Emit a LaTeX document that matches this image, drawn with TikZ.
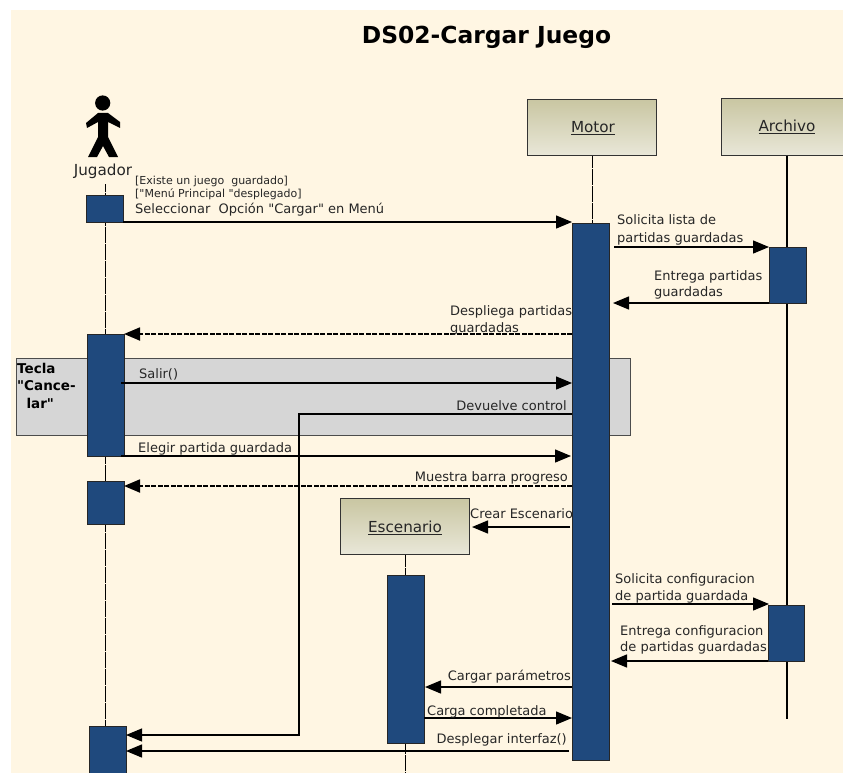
\documentclass[tikz,border=0pt]{standalone}
\usepackage{fontspec}
\setmainfont{DejaVu Sans}[Ligatures=TeXOff]
\usetikzlibrary{arrows.meta,calc}
\definecolor{cream}{HTML}{FFF6E3}
\definecolor{barblue}{HTML}{1F497D}
\definecolor{boxtop}{HTML}{C9C6A2}
\definecolor{boxbot}{HTML}{E9E7D8}
\definecolor{fragfill}{HTML}{D6D6D6}
\tikzset{
 x=1pt,y=-1pt,
 bar/.style={draw=black!85,line width=0.8pt,fill=barblue},
 life/.style={draw=black,line width=1pt},
 lifedash/.style={life,dash pattern=on 4pt off 0.25pt},
 objbox/.style={draw=black!80,line width=0.8pt,top color=boxtop,bottom color=boxbot,inner sep=0pt,anchor=north west},
 objlab/.style={inner sep=0pt,font=\fontsize{15.2}{18}\selectfont,text=black!85},
 msg/.style={draw=black,line width=1.4pt,-{Triangle[length=16pt,width=13pt]}},
 ret/.style={msg,line width=1.8pt,dash pattern=on 5pt off 1.5pt},
 lab/.style={inner sep=0pt,yshift=-1pt,font=\fontsize{13}{15}\selectfont,text=black!85},
 labr/.style={lab,anchor=base east},
 labl/.style={lab,anchor=base west},
 small/.style={inner sep=0pt,yshift=-1pt,anchor=base west,font=\fontsize{11}{13}\selectfont,text=black!85},
}
\newcommand{\barbox}[5]{\node[bar,inner sep=0pt,anchor=north west,minimum width=#4pt,minimum height=#5pt] (#1) at (#2,#3) {};}
\begin{document}
\begin{tikzpicture}
\useasboundingbox (0,0) rectangle (843,773);
\fill[cream] (11,10) rectangle (843,773);
\node[inner sep=0pt,font=\bfseries\fontsize{23.4}{26}\selectfont] (title) at (486.5,37) {DS02-Cargar Juego};

% fragment
\node[draw=black!70,line width=0.8pt,fill=fragfill,inner sep=0pt,anchor=north west,minimum width=614pt,minimum height=77pt] (frag) at (16,358) {};
\node[inner sep=0pt,anchor=north west,align=left,font=\bfseries\fontsize{13.5}{17.5}\selectfont] (fraglab) at (17,363) {Tecla\\"Cance-\\\ \ lar"};

% lifelines
\coordinate (jtop) at (105,184);
\coordinate (jbot) at (105,773);
\draw[lifedash] (jtop) -- (jbot);
\coordinate (mbot) at (592,225);
\node[objbox,minimum width=129pt,minimum height=56pt] (motor) at (527,99) {};
\node[objlab] (motorl) at (593,128) {\underline{Motor}};
\draw[lifedash] (motor.south -| mbot) -- (mbot);
\node[objbox,minimum width=125pt,minimum height=57pt] (archivo) at (721,98) {};
\node[objlab] (archivol) at (787,127) {\underline{Archivo}};
\coordinate (abot) at (787,719);
\draw[life,line width=1.2pt] (archivo.south -| abot) -- (abot);
\node[objbox,minimum width=129pt,minimum height=56pt] (esc) at (340,498) {};
\node[objlab] (escl) at (405,528) {\underline{Escenario}};
\coordinate (ebot) at (405,773);
\draw[lifedash] (esc.south -| ebot) -- (ebot);

% actor
\fill[black] (102.7,103) circle (7.6);
\fill[black] (98,113) -- (108,113) -- (120,122) -- (120,128) -- (108,122) -- (108,137) -- (118,157) -- (109,157) -- (103,146) -- (97,157) -- (88,157) -- (98,137) -- (98,122) -- (87,128) -- (86,123) -- cycle;
\node[objlab] (jug) at (103,171) {Jugador};

% bars
\barbox{j1}{86}{195}{37}{27}
\barbox{j2}{87}{334}{37}{122}
\barbox{j3}{87}{481}{37}{43}
\barbox{j4}{89}{726}{37}{47}
\barbox{m}{572}{223}{37}{537}
\barbox{a1}{769}{247}{37}{56}
\barbox{a2}{768}{605}{36}{56}
\barbox{e}{387}{575}{37}{168}

% messages
\coordinate (s1) at (123,222); \coordinate (t1) at (572,222);
\draw[msg] (s1) -- (t1);
\node[small] (c1) at (135,183) {[Existe un juego\ \ guardado]};
\node[small] (c2) at (135,196) {["Menú Principal "desplegado]};
\node[labl] (l1) at (135,212) {Seleccionar\ \ Opción "Cargar" en Menú};

\coordinate (s2) at (614,247); \coordinate (t2) at (769,247);
\draw[msg] (s2) -- (t2);
\node[labl] (l2a) at (617,223) {Solicita lista de};
\node[labl] (l2b) at (617,241) {partidas guardadas};

\coordinate (s3) at (769,303); \coordinate (t3) at (613,303);
\draw[msg] (s3) -- (t3);
\node[labl] (l3a) at (654,279) {Entrega partidas};
\node[labl] (l3b) at (654,295) {guardadas};

\coordinate (s4) at (572,334); \coordinate (t4) at (124,334);
\draw[ret] (s4) -- (t4);
\node[labl] (l4a) at (450,314) {Despliega partidas};
\node[labl] (l4b) at (450,331) {guardadas};

\coordinate (s5) at (121,383); \coordinate (t5) at (572,383);
\draw[msg] (s5) -- (t5);
\node[labl] (l5) at (139,377) {Salir()};

\coordinate (s6) at (572,414); \coordinate (k6) at (299,414); \coordinate (t6) at (126,735);
\draw[msg,line width=1.1pt] (s6) -- (k6) -- (299,735) -- (t6);
\node[labr] (l6) at (567,409) {Devuelve control};

\coordinate (s7) at (121,456); \coordinate (t7) at (571,456);
\draw[msg] (s7) -- (t7);
\node[labl] (l7) at (138,451) {Elegir partida guardada};

\coordinate (s8) at (572,486); \coordinate (t8) at (124,486);
\draw[ret] (s8) -- (t8);
\node[labr] (l8) at (568,480) {Muestra barra progreso};

\coordinate (s9) at (570,527); \coordinate (t9) at (472,527);
\draw[msg] (s9) -- (t9);
\node[labl] (l9) at (470,517) {Crear Escenario};

\coordinate (s10) at (612,604); \coordinate (t10) at (769,604);
\draw[msg] (s10) -- (t10);
\node[labl] (l10a) at (615,582) {Solicita configuracion};
\node[labl] (l10b) at (615,599) {de partida guardada};

\coordinate (s11) at (768,661); \coordinate (t11) at (611,661);
\draw[msg] (s11) -- (t11);
\node[labl] (l11a) at (620,634) {Entrega configuracion};
\node[labl] (l11b) at (620,650) {de partidas guardadas};

\coordinate (s12) at (572,687); \coordinate (t12) at (425,687);
\draw[msg] (s12) -- (t12);
\node[labr] (l12) at (571,679) {Cargar parámetros};

\coordinate (s13) at (424,718); \coordinate (t13) at (572,718);
\draw[msg] (s13) -- (t13);
\node[labl] (l13) at (427,714) {Carga completada};

\coordinate (s14) at (569,751); \coordinate (t14) at (126,751);
\draw[msg] (s14) -- (t14);
\node[labr] (l14) at (567,742) {Desplegar interfaz()};
\end{tikzpicture}
\end{document}
